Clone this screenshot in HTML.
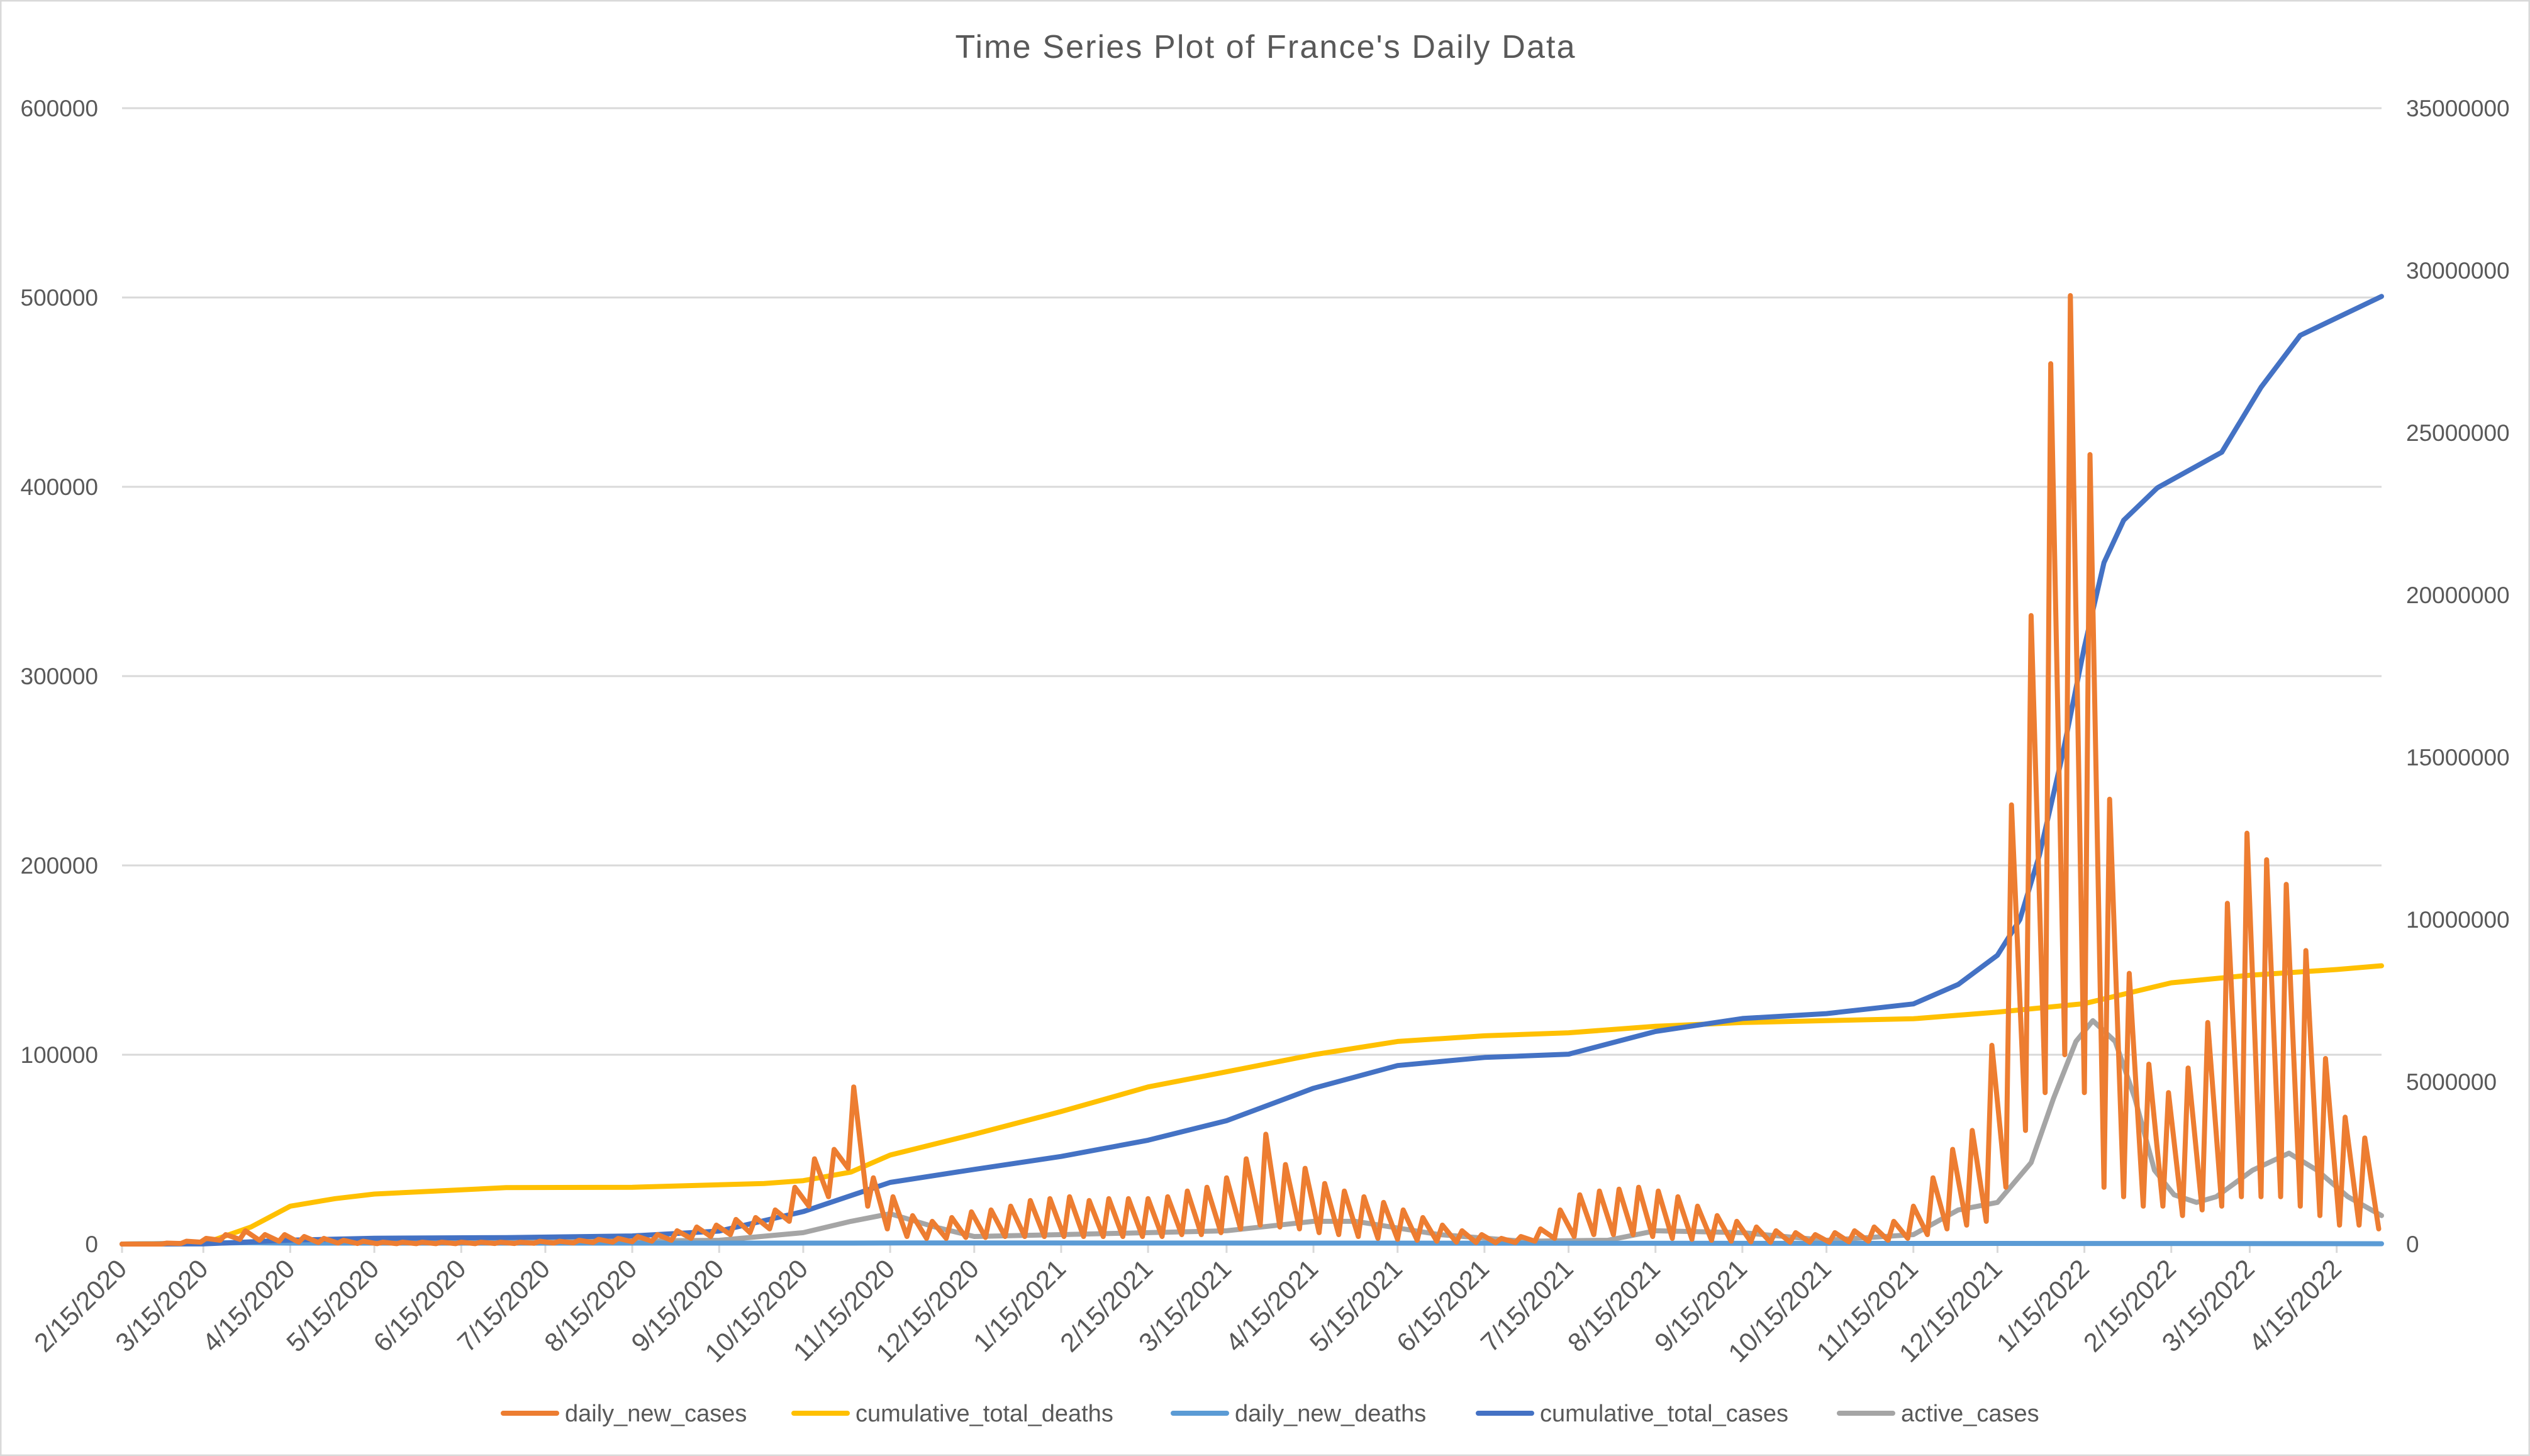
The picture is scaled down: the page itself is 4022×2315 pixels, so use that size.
<!DOCTYPE html>
<html><head><meta charset="utf-8"><style>
html,body{margin:0;padding:0;background:#fff;}
svg{display:block;font-family:"Liberation Sans",sans-serif;}
</style></head><body>
<svg id="chart" width="4022" height="2315" viewBox="0 0 4022 2315" xmlns="http://www.w3.org/2000/svg">
<rect x="1" y="1" width="4020" height="2313" fill="#fff" stroke="#d9d9d9" stroke-width="3"/>
<text x="2011" y="92" text-anchor="middle" font-size="52" fill="#595959" textLength="985">Time Series Plot of France's Daily Data</text>
<g id="grid"></g><g id="axes"></g><g id="series"></g><g id="legend"></g>
</svg>
<script>
// ---- data ----
const startDate = [2020, 1, 15];
const totalDays = 807;
const leftTicks = [0, 100000, 200000, 300000, 400000, 500000, 600000];
const rightTicks = [0, 5000000, 10000000, 15000000, 20000000, 25000000, 30000000, 35000000];
const tickLabels = ["2/15/2020","3/15/2020","4/15/2020","5/15/2020","6/15/2020","7/15/2020","8/15/2020","9/15/2020","10/15/2020","11/15/2020","12/15/2020","1/15/2021","2/15/2021","3/15/2021","4/15/2021","5/15/2021","6/15/2021","7/15/2021","8/15/2021","9/15/2021","10/15/2021","11/15/2021","12/15/2021","1/15/2022","2/15/2022","3/15/2022","4/15/2022"];
// daily new cases: weekly peak and weekly low (one value per week, week starts 2/15/2020)
const weeklyPeak = [0,0,500,1500, 3000,5000,7000,5000,5000,4000,3000, 2000,1500,1000,1000,1000,1000,1000,1000,1000, 1000,1500,1500,2000,2500,3000, 4000,5000,7000,9000, 10000,13000,14000,18000, 30000,45000,50000,83000, 35000,25000,15000,12000, 14000,17000,18000,20000, 23000,24000,25000,23000,24000, 24000,24000,25000,28000, 30000,35000,45000,58000, 42000,40000,32000,28000, 25000,22000,18000,14000, 10000,7000,5000,3000, 4000,8000,18000,26000, 28000,29000,30000,28000, 25000,20000,15000,12000, 9000,7000,6000,5000, 6000,7000,9000,12000, 20000,35000,50000,60000, 105000,232000,332000,465000, 501000,417000,235000,143000, 95000,80000,93000,117000, 180000,217000,203000,190000, 155000,98000,67000,56000, 30000];
const weeklyLow = [0,0,0,300, 1000,2000,2500,2000,1500,1000,800, 500,300,200,200,200,200,200,200,300, 300,400,500,600,800,1000, 1200,1500,2000,3000, 4000,5000,6000,8000, 12000,20000,25000,40000, 20000,8000,4000,3000, 3000,3500,3500,4000, 4000,4000,4000,4000,4000, 4000,4000,4000,5000, 5000,6000,8000,10000, 9000,8000,6000,5000, 4000,3000,2500,2000, 1500,1000,800,700, 800,1500,3000,4000, 5000,5000,5000,4000, 3000,2500,2000,1500, 1200,1000,1000,1000, 1000,1200,1500,2000, 3000,5000,8000,10000, 12000,30000,60000,80000, 100000,80000,30000,25000, 20000,20000,15000,18000, 20000,25000,25000,25000, 20000,15000,10000,10000, 8000];
// cumulative deaths (left axis), by day offset
const deathDays = [0, 29, 46, 60, 76, 90, 137, 182, 229, 243, 260, 274, 304, 335, 366, 394, 425, 455, 486, 516, 547, 578, 608, 639, 669, 700, 731, 759, 790, 806];
const deathVals = [0, 200, 9000, 20000, 24000, 26400, 29800, 30000, 32000, 33500, 38000, 47000, 58000, 70000, 83000, 91000, 100000, 107000, 110000, 111600, 115000, 117000, 118000, 119000, 122500, 127000, 138000, 142000, 145000, 147000];
// cumulative cases (right axis)
const caseDays = [0, 29, 60, 90, 137, 182, 213, 243, 274, 304, 335, 366, 394, 425, 455, 486, 516, 547, 578, 608, 639, 655, 669, 677, 684, 692, 700, 707, 714, 726, 749, 763, 777, 806];
const caseVals = [0, 5000, 120000, 180000, 200000, 250000, 400000, 1000000, 1900000, 2300000, 2700000, 3200000, 3800000, 4800000, 5500000, 5750000, 5850000, 6550000, 6950000, 7100000, 7400000, 8000000, 8900000, 10000000, 12000000, 15000000, 18400000, 21000000, 22300000, 23300000, 24400000, 26400000, 28000000, 29200000];
// active cases (left axis)
const activeDays = [0, 60, 137, 213, 243, 260, 274, 290, 304, 335, 366, 394, 425, 440, 470, 500, 530, 547, 578, 608, 639, 655, 669, 681, 689, 697, 703, 711, 718, 725, 732, 740, 747, 760, 773, 783, 794, 806];
const activeVals = [0, 1000, 1000, 2000, 6000, 12000, 16000, 9000, 4000, 5000, 6000, 7000, 12000, 12000, 5000, 1500, 2000, 7000, 6000, 2000, 5000, 18000, 22000, 43000, 77000, 107000, 118000, 107000, 77000, 39000, 26000, 22000, 25000, 39000, 48000, 39000, 25000, 15000];
// daily new deaths (left axis)
const newDeathDays = [0, 45, 60, 260, 280, 700, 720, 806];
const newDeathVals = [0, 700, 500, 500, 600, 300, 300, 150];

// ---- axes ----
const X0 = 194, X1 = 3786, Y0 = 1978, YTOP = 172;
const xScale = d => X0 + d * (X1 - X0) / (totalDays - 1);
const yL = v => Y0 - v / 600000 * (Y0 - YTOP);
const yR = v => Y0 - v / 35000000 * (Y0 - YTOP);
const NS = "http://www.w3.org/2000/svg";
function mk(tag, parent, attrs) { const e = document.createElementNS(NS, tag); for (const k in attrs) e.setAttribute(k, attrs[k]); parent.appendChild(e); return e; }
const grid = document.getElementById('grid'), axes = document.getElementById('axes'), series = document.getElementById('series'), legend = document.getElementById('legend');
const base = new Date(startDate[0], startDate[1], startDate[2]);
function dayOf(label) { const p = label.split('/'); const d = new Date(+p[2], +p[0] - 1, +p[1]); return Math.round((d - base) / 86400000); }

leftTicks.forEach(v => {
  if (v > 0) {
    const g = mk('line', grid, {x1: X0, x2: X1, y1: yL(v), y2: yL(v), stroke: '#d9d9d9', 'stroke-width': 3});
    
    
  }
  const t = mk('text', axes, {x: 156, y: yL(v) + 13, 'text-anchor': 'end', 'font-size': 37, fill: '#595959'});
  t.textContent = v;
  
  
});
rightTicks.forEach(v => {
  const t = mk('text', axes, {x: 3825, y: yR(v) + 13, 'text-anchor': 'start', 'font-size': 37, fill: '#595959'});
  t.textContent = v;
  
  
});
const ax = mk('line', axes, {x1: X0, x2: X1, y1: Y0, y2: Y0, stroke: '#d9d9d9', 'stroke-width': 3});


tickLabels.forEach(l => {
  const x = xScale(dayOf(l));
  const tk = mk('line', axes, {x1: x, x2: x, y1: Y0, y2: Y0 + 14, stroke: '#d9d9d9', 'stroke-width': 3});
  
  
  const t = mk('text', axes, {x: x + 10, y: Y0 + 42, 'text-anchor': 'end', 'font-size': 42, fill: '#595959', transform: `rotate(-45 ${x + 10} ${Y0 + 42})`});
  t.textContent = l;
  
  
});

// ---- series ----
function path(days, vals, ys) { return days.map((d, i) => (i ? 'L' : 'M') + xScale(d).toFixed(1) + ' ' + ys(vals[i]).toFixed(1)).join(' '); }
const dncDays = [], dncVals = [];
weeklyPeak.forEach((p, w) => {
  if (7 * w < totalDays) { dncDays.push(7 * w); dncVals.push(weeklyLow[w]); }
  if (7 * w + 2 < totalDays) { dncDays.push(7 * w + 2); dncVals.push(p); }
});

const pActive = mk('path', series, {d: path(activeDays, activeVals, yL), fill: 'none', stroke: '#a5a5a5', 'stroke-width': 8, 'stroke-linejoin': 'round', 'stroke-linecap': 'round'});


const pNewDeaths = mk('path', series, {d: path(newDeathDays, newDeathVals, yL), fill: 'none', stroke: '#5b9bd5', 'stroke-width': 8, 'stroke-linejoin': 'round', 'stroke-linecap': 'round'});


const pDeaths = mk('path', series, {d: path(deathDays, deathVals, yL), fill: 'none', stroke: '#ffc000', 'stroke-width': 8, 'stroke-linejoin': 'round', 'stroke-linecap': 'round'});


const pCases = mk('path', series, {d: path(caseDays, caseVals, yR), fill: 'none', stroke: '#4472c4', 'stroke-width': 8, 'stroke-linejoin': 'round', 'stroke-linecap': 'round'});


const pDnc = mk('path', series, {d: path(dncDays, dncVals, yL), fill: 'none', stroke: '#ed7d31', 'stroke-width': 8, 'stroke-linejoin': 'round', 'stroke-linecap': 'round'});



// ---- legend ----
const legendNames = ['daily_new_cases', 'cumulative_total_deaths', 'daily_new_deaths', 'cumulative_total_cases', 'active_cases'];
const legendColors = ['#ed7d31', '#ffc000', '#5b9bd5', '#4472c4', '#a5a5a5'];
const legendX = [800, 1262, 1865, 2350, 2924];
legendNames.forEach((n, i) => {
  const g = mk('g', legend, {});
  
  
  mk('line', g, {x1: legendX[i], x2: legendX[i] + 85, y1: 2247, y2: 2247, stroke: legendColors[i], 'stroke-width': 8, 'stroke-linecap': 'round'});
  const t = mk('text', g, {x: legendX[i] + 98, y: 2260, 'font-size': 38, fill: '#595959'});
  t.textContent = n;
});
</script>
</body></html>
